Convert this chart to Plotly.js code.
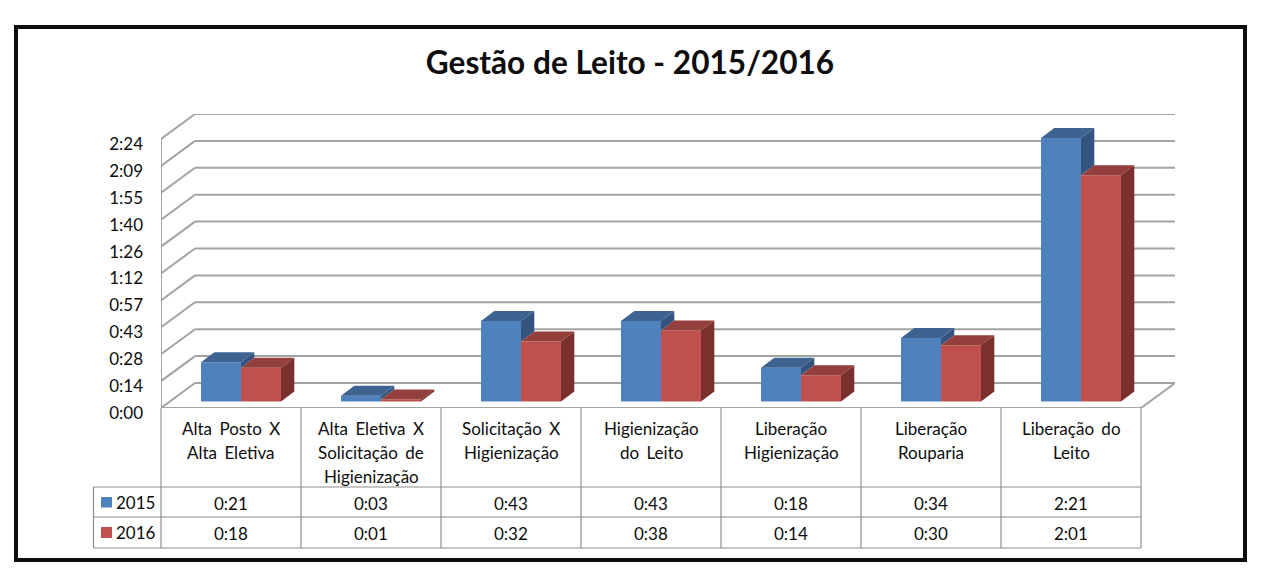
<!DOCTYPE html>
<html>
<head>
<meta charset="utf-8">
<script src="https://cdn.plot.ly/plotly-3.0.1.min.js"></script>
<style>
html,body{margin:0;padding:0;background:#fff;}
#chart{width:1280px;height:583px;}
.annotation-text{word-spacing:3px;}
</style>
</head>
<body>
<div id="chart"></div>
<script>
// ---- data (minutes) ----
var categories = [
  ["Alta Posto X","Alta Eletiva"],
  ["Alta Eletiva X","Solicitação de","Higienização"],
  ["Solicitação X","Higienização"],
  ["Higienização","do Leito"],
  ["Liberação","Higienização"],
  ["Liberação","Rouparia"],
  ["Liberação do","Leito"]
];
var seriesNames = ["2015","2016"];
var values2015 = [21,3,43,43,18,34,141];
var values2016 = [18,1,32,38,14,30,121];
var tickValues = [0,14.4,28.8,43.2,57.6,72,86.4,100.8,115.2,129.6,144];
var tickLabels = ["0:00","0:14","0:28","0:43","0:57","1:12","1:26","1:40","1:55","2:09","2:24"];

// ---- styling ----
var FONT = "Lato, Carlito, sans-serif";
var INK = "#0d0d0d";
var BLUE = {front:"#4F81BD", top:"#3E6390", side:"#33547E"};
var RED  = {front:"#C0504D", top:"#933F3B", side:"#7A312E"};
var GRID = "#a3a3a3", TABLE = "#8e8e8e", TABLE2 = "#ababab";

// ---- geometry (pixels) ----
var L = 161, R = 1175, T = 114, B = 408;
var FRONT_R = 1141, CAT_W = 140, PX_PER_MIN = 269/144;
var WALL_DX = 34, WALL_DY = 25;
function ux(px){ return px/CAT_W; }          // px -> x units
function uy(px){ return px/PX_PER_MIN; }     // px -> minutes
function paperX(px){ return (px-L)/(R-L); }
function paperY(py){ return (B-py)/(B-T); }
function fmt(m){ var mm = m%60; return Math.floor(m/60)+":"+(mm<10?"0":"")+mm; }

var xRange = [-0.5, 6.5+ux(WALL_DX)];
var yRange = [0, 144+uy(WALL_DY)];
var xs = categories.map(function(_,i){return i;});

var barW = ux(40), barShift = ux(10), barBase = uy(6.6), depthX = ux(13.3), depthY = uy(10);

function barTrace(vals, name, col, off){
  return {type:"bar", name:name, x:xs.map(function(i){return i+barShift+off;}), y:vals,
    base:vals.map(function(){return barBase;}), width:barW,
    marker:{color:col.front, line:{width:0}}, hoverinfo:"skip", showlegend:false};
}
function poly(px, py, col){
  return {type:"scatter", mode:"lines", x:px, y:py, fill:"toself", fillcolor:col,
    line:{width:0, color:col}, hoverinfo:"skip", showlegend:false};
}
function topFace(vals, off, col){
  var X=[],Y=[];
  vals.forEach(function(v,i){
    var x0=i+barShift+off-barW/2, x1=x0+barW, y=barBase+v;
    X.push(x0,x1,x1+depthX,x0+depthX,x0,null);
    Y.push(y,y,y+depthY,y+depthY,y,null);
  });
  return poly(X,Y,col);
}
function sideFace(vals, lows, off, col){
  var X=[],Y=[];
  vals.forEach(function(v,i){
    var x=i+barShift+off+barW/2, y=barBase+v, y0=barBase+lows[i];
    X.push(x,x+depthX,x+depthX,x,x,null);
    Y.push(y,y+depthY,y0+depthY,y0,y,null);
  });
  return poly(X,Y,col);
}
var zeros = values2016.map(function(){return 0;});
var traces = [
  barTrace(values2015, seriesNames[0], BLUE, -barW/2),
  barTrace(values2016, seriesNames[1], RED, barW/2),
  sideFace(values2015, values2016, -barW/2, BLUE.side),
  topFace(values2015, -barW/2, BLUE.top),
  topFace(values2016, barW/2, RED.top),
  sideFace(values2016, zeros, barW/2, RED.side)
];

// ---- walls, floor, gridlines (under the bars) ----
var shapes = [];
function dataLine(x0,y0,x1,y1,col,w){
  shapes.push({type:"line",xref:"x",yref:"y",x0:x0,y0:y0,x1:x1,y1:y1,layer:"below",
    line:{color:col,width:w}});
}
var x0 = -0.5, xF = 6.5, wx = ux(WALL_DX), wy = uy(WALL_DY);
tickValues.forEach(function(v){
  dataLine(x0,v,x0+wx,v+wy,GRID,2);
  if(v>0) dataLine(x0+wx,v+wy,xF+wx,v+wy,GRID,2);
});
dataLine(x0+wx,wy,xF+wx,wy,GRID,2);
dataLine(x0,0,x0,144,GRID,2);
dataLine(x0,0,xF,0,GRID,2);
dataLine(xF,0,xF+wx,wy,GRID,2);

function pxLine(xa,ya,xb,yb,col,w){
  shapes.push({type:"line",xref:"paper",yref:"paper",x0:paperX(xa),y0:paperY(ya),x1:paperX(xb),y1:paperY(yb),
    layer:"above",line:{color:col,width:w}});
}
function pxRect(xa,ya,xb,yb,fill,lineCol,w){
  shapes.push({type:"rect",xref:"paper",yref:"paper",x0:paperX(xa),y0:paperY(ya),x1:paperX(xb),y1:paperY(yb),
    layer:"above",fillcolor:fill,line:{color:lineCol,width:w}});
}

// data table
var rowTop = 487, rowMid = 517, rowBot = 548, keyL = 93.5;
for(var c=0;c<=7;c++){
  var vx = L+c*CAT_W;
  pxLine(vx,B,vx,rowTop,TABLE2,1.5);
  pxLine(vx,rowTop,vx,rowBot,TABLE,1.2);
}
[rowTop,rowMid,rowBot].forEach(function(y){ pxLine(keyL,y,FRONT_R,y,TABLE,1.2); });
pxLine(keyL,rowTop,keyL,rowBot,TABLE,1.2);
// legend keys
pxRect(101,497,112,507.5,BLUE.front,BLUE.front,0);
pxRect(101,527,112,538,RED.front,RED.front,0);
// outer frame
pxRect(16,27,1245,560,"rgba(0,0,0,0)",INK,4);

// ---- text ----
var annotations = [];
function label(xa,ya,text,opts){
  opts = opts||{};
  annotations.push({xref:opts.xref||"paper",yref:"paper",x:xa,y:paperY(ya),text:text,showarrow:false,
    xanchor:opts.anchor||"center",yanchor:"middle",align:"center",
    font:{family:FONT,size:17,color:INK}});
}
var lineY = [428.5,452,476];
categories.forEach(function(lines,i){
  lines.forEach(function(t,k){ label(i,lineY[k],t,{xref:"x"}); });
  label(i,503,fmt(values2015[i]),{xref:"x"});
  label(i,533.5,fmt(values2016[i]),{xref:"x"});
});
label(paperX(114),502.5,seriesNames[0],{anchor:"left"});
label(paperX(114),532.5,seriesNames[1],{anchor:"left"});

var layout = {
  width:1280, height:583,
  margin:{l:L, r:1280-R, t:T, b:583-B, pad:0},
  paper_bgcolor:"#fff", plot_bgcolor:"rgba(0,0,0,0)",
  showlegend:false, barmode:"overlay",
  title:{text:"<b>Gestão de Leito - 2015/2016</b>", xref:"paper", yref:"container",
    x:paperX(630), xanchor:"center", y:1-63/583, yanchor:"middle",
    font:{family:FONT,size:31.6,color:INK}},
  xaxis:{type:"linear",range:xRange,showgrid:false,zeroline:false,showline:false,showticklabels:false,ticks:""},
  yaxis:{type:"linear",range:yRange,showgrid:false,zeroline:false,showline:false,
    tickmode:"array",tickvals:tickValues,ticktext:tickLabels,ticks:"",
    ticklabelstandoff:17,ticklabelshift:5,
    tickfont:{family:FONT,size:17,color:INK}},
  shapes:shapes, annotations:annotations
};
Plotly.newPlot("chart",traces,layout,{displayModeBar:false,staticPlot:true});
</script>
</body>
</html>
